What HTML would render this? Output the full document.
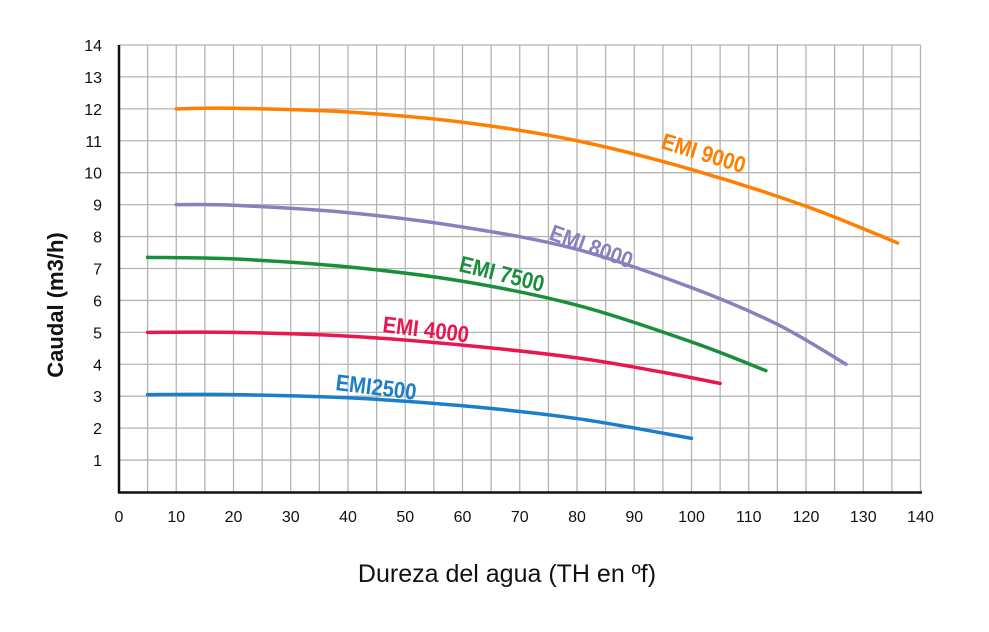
<!DOCTYPE html>
<html><head><meta charset="utf-8"><style>
html,body{margin:0;padding:0;background:#fff;}
svg{display:block;font-family:"Liberation Sans",Arial,sans-serif;}
</style></head><body>
<svg id="s" width="989" height="632" viewBox="0 0 989 632" xmlns="http://www.w3.org/2000/svg">
<g id="grid" stroke="#b4b4b4" stroke-width="1.3"></g>
<g id="curves" fill="none" stroke-width="3.5" stroke-linecap="round"></g>
<line x1="119" y1="45" x2="119" y2="493" stroke="#111" stroke-width="2.5"/>
<line x1="118" y1="492.5" x2="922" y2="492.5" stroke="#111" stroke-width="2.5"/>
<g id="ylab" font-size="16" fill="#111" text-anchor="end"></g>
<g id="xlab" font-size="16" fill="#111" text-anchor="middle"></g>
<text transform="translate(507,582) scale(1,1)" font-size="25" text-anchor="middle" fill="#111">Dureza del agua (TH en ºf)</text>
<text transform="translate(63,305) rotate(-90)" font-size="22" font-weight="bold" text-anchor="middle" fill="#111">Caudal (m3/h)</text>
<g font-weight="bold" font-size="23">
<text transform="translate(660,148) rotate(17) scale(0.88,1)" fill="#ff7f00">EMI 9000</text>
<text transform="translate(548,239) rotate(20) scale(0.88,1)" fill="#8a80bd">EMI 8000</text>
<text transform="translate(458,271) rotate(14) scale(0.88,1)" fill="#1a8f3a">EMI 7500</text>
<text transform="translate(382,332) rotate(7) scale(0.88,1)" fill="#e8174f">EMI 4000</text>
<text transform="translate(335,390) rotate(7) scale(0.88,1)" fill="#1a7fc8">EMI2500</text>
</g>
</svg>
<script>
var NS="http://www.w3.org/2000/svg";
function px(x){return 119+5.725*x;}
function py(y){return 492-31.93*y;}
function el(p,t,a){var e=document.createElementNS(NS,t);for(var k in a)e.setAttribute(k,a[k]);p.appendChild(e);return e;}
var g=document.getElementById('grid');
for(var x=5;x<=140;x+=5)el(g,'line',{x1:px(x),y1:py(14),x2:px(x),y2:492});
for(var y=1;y<=14;y++)el(g,'line',{x1:119,y1:py(y),x2:px(140),y2:py(y)});
var yl=document.getElementById('ylab');
for(var y=1;y<=14;y++){el(yl,'text',{x:102,y:py(y)+6}).textContent=y;}
var xl=document.getElementById('xlab');
for(var x=0;x<=140;x+=10){el(xl,'text',{x:px(x),y:522}).textContent=x;}
var data=[
["#ff7f00",[[10,12],[20,12.02],[40,11.9],[60,11.58],[80,11.0],[100,10.1],[120,8.95],[136,7.8]]],
["#8a80bd",[[10,9],[20,8.98],[40,8.75],[60,8.3],[80,7.6],[100,6.4],[115,5.25],[127,4.0]]],
["#1a8f3a",[[5,7.35],[20,7.3],[40,7.05],[60,6.6],[80,5.85],[100,4.7],[113,3.8]]],
["#e8174f",[[5,5],[20,5],[40,4.88],[60,4.6],[80,4.2],[95,3.75],[105,3.4]]],
["#1a7fc8",[[5,3.05],[20,3.05],[40,2.95],[60,2.7],[80,2.3],[100,1.68]]]];
var cg=document.getElementById('curves');
data.forEach(function(d){
 var p=d[1].map(function(q){return [px(q[0]),py(q[1])];});
 var s="M"+p[0][0]+","+p[0][1];
 for(var i=0;i<p.length-1;i++){
  var p0=p[i-1]||p[i],p1=p[i],p2=p[i+1],p3=p[i+2]||p2;
  var c1=[p1[0]+(p2[0]-p0[0])/6,p1[1]+(p2[1]-p0[1])/6];
  var c2=[p2[0]-(p3[0]-p1[0])/6,p2[1]-(p3[1]-p1[1])/6];
  s+=" C"+c1+" "+c2+" "+p2;
 }
 el(cg,'path',{d:s,stroke:d[0]});
});
</script>
</body></html>
